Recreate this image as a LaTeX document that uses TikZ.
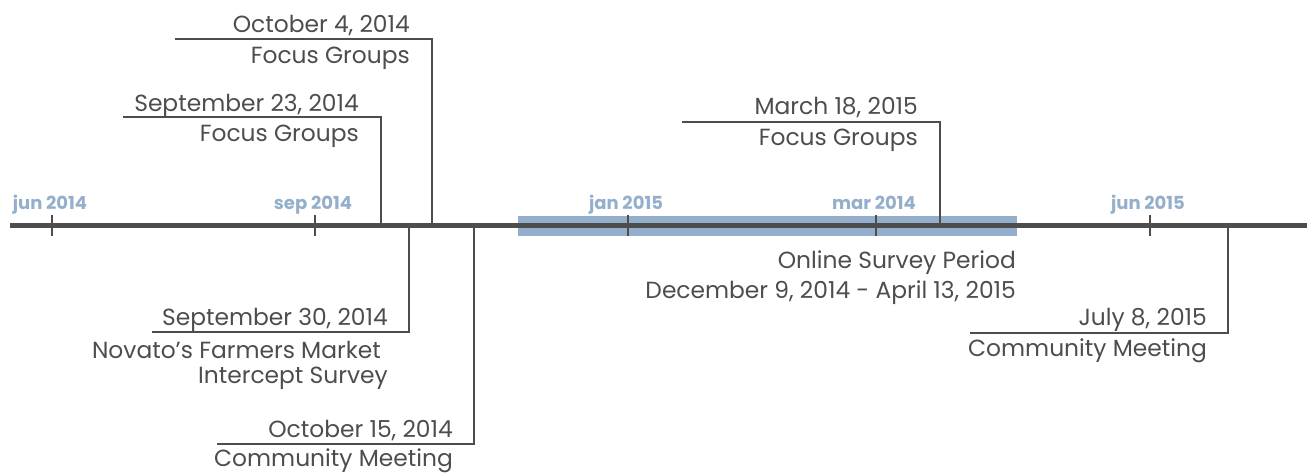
\documentclass[tikz,border=0pt]{standalone}
\usepackage{fontspec}
\setmainfont{Poppins}
\definecolor{ink}{HTML}{4D4D4D}
\definecolor{tickblue}{HTML}{94AFCB}
\definecolor{bandblue}{HTML}{94AFCB}
\begin{document}
\begin{tikzpicture}[x=1pt,y=-1pt,
  axisline/.style={line width=5.6pt,ink},
  tickmark/.style={line width=2.6pt,ink},
  leader/.style={line width=2.6pt,ink},
  evtext/.style={inner sep=0pt,text=ink,font=\fontsize{23.35}{28}\selectfont,anchor=base east},
  ticklabel/.style={inner sep=0pt,text=tickblue,font=\fontsize{18}{22}\selectfont\bfseries,anchor=base}]
\useasboundingbox (0,0) rectangle (1307,472);
% online survey band
\fill[bandblue] (518,216) rectangle (1017,236);
% axis
\coordinate (axL) at (10,225.5);
\coordinate (axR) at (1307,225.5);
\draw[axisline] (axL) -- (axR);
% ticks
\foreach \n/\x/\t in {t1/52/jun 2014,t2/315/sep 2014,t3/628/jan 2015,t4/876/mar 2014,t5/1150/jun 2015}{
  \coordinate (\n top) at (\x,215);
  \coordinate (\n bot) at (\x,236);
  \draw[tickmark] (\n top) -- (\n bot);
  \node[ticklabel] (\n lab) at (\x-2,209) {\t};
}
% Oct 4 2014
\coordinate (e1a) at (432,225.5);
\coordinate (e1b) at (175,39);
\draw[leader] (e1a) |- (e1b);
\node[evtext] (e1d) at (410,32) {October 4, 2014};
\node[evtext] (e1t) at (410,63) {Focus Groups};
% Sep 23 2014
\coordinate (e2a) at (381,225.5);
\coordinate (e2b) at (123,117);
\draw[leader] (e2a) |- (e2b);
\node[evtext] (e2d) at (359,111) {September 23, 2014};
\node[evtext] (e2t) at (359,141) {Focus Groups};
% Sep 30 2014
\coordinate (e3a) at (409,225.5);
\coordinate (e3b) at (152,332);
\draw[leader] (e3a) |- (e3b);
\node[evtext] (e3d) at (388,325) {September 30, 2014};
\node[evtext] (e3t) at (381,358) {Novato’s Farmers Market};
\node[evtext] (e3u) at (388,383) {Intercept Survey};
% Oct 15 2014
\coordinate (e4a) at (474,225.5);
\coordinate (e4b) at (217,444);
\draw[leader] (e4a) |- (e4b);
\node[evtext] (e4d) at (453,437) {October 15, 2014};
\node[evtext] (e4t) at (453,466) {Community Meeting};
% Mar 18 2015
\coordinate (e5a) at (940,225.5);
\coordinate (e5b) at (682,122);
\draw[leader] (e5a) |- (e5b);
\node[evtext] (e5d) at (918,114) {March 18, 2015};
\node[evtext] (e5t) at (918,145) {Focus Groups};
% Online survey
\node[evtext] (s1) at (1016,268) {Online Survey Period};
\node[evtext] (s2) at (1016,298) {December 9, 2014 - April 13, 2015};
% Jul 8 2015
\coordinate (e6a) at (1228,225.5);
\coordinate (e6b) at (970,333);
\draw[leader] (e6a) |- (e6b);
\node[evtext] (e6d) at (1207,325) {July 8, 2015};
\node[evtext] (e6t) at (1207,356) {Community Meeting};
\end{tikzpicture}
\end{document}
